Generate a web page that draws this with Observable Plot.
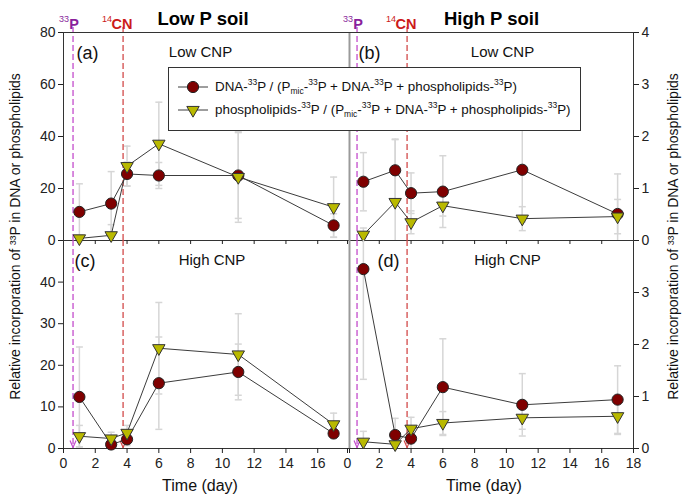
<!DOCTYPE html>
<html><head><meta charset="utf-8">
<script src="https://cdn.jsdelivr.net/npm/d3@7"></script>
<script src="https://cdn.jsdelivr.net/npm/@observablehq/plot@0.6"></script>
<style>
body{margin:0;background:#fff;}
#chart{position:relative;width:685px;height:500px;font-family:"Liberation Sans",Arial,sans-serif;overflow:hidden;}
.leg{position:absolute;left:168px;top:67px;width:413px;height:64px;border:1px solid #333;background:#fff;box-sizing:border-box;z-index:10;}
.leg .sw{position:absolute;left:8px;}
.leg .tx{position:absolute;left:46px;font-size:13.4px;line-height:18px;white-space:nowrap;color:#111;}
.leg sup{font-size:8.5px;vertical-align:6px;line-height:0;}
.leg sub{font-size:8.5px;vertical-align:-3px;line-height:0;}
</style></head><body><div id="chart"></div>
<script>
// sampling days
const days = [1, 3, 4, 6, 11, 17];
// (a) Low P soil, Low CNP
const dnaA = [11.0, 14.2, 25.6, 25.0, 25.0, 5.8];
const dnaAErr = [10.8, 12.3, 4.6, 5.0, 16.5, 4.5];
const plA = [0.8, 2.0, 28.6, 37.2, 24.4, 12.8];
const plAErr = [1.2, 4.1, 7.7, 16.0, 17.4, 11.6];
// (b) High P soil, Low CNP
const dnaB = [1.13, 1.35, 0.91, 0.94, 1.36, 0.51];
const dnaBErr = [0.56, 0.6, 0.39, 0.69, 1.0, 0.77];
const plB = [0.11, 0.74, 0.35, 0.67, 0.42, 0.46];
const plBErr = [0.13, 1.2, 0.22, 0.2, 0.23, 0.33];
// (c) Low P soil, High CNP
const dnaC = [12.4, 0.96, 2.2, 15.7, 18.4, 3.6];
const dnaCErr = [12.0, 1.5, 1.5, 11.1, 6.7, 1.0];
const plC = [2.95, 2.4, 3.75, 24.1, 22.6, 5.8];
const plCErr = [2.6, 1.5, 1.8, 11.0, 9.8, 2.7];
// (d) High P soil, High CNP
const dnaD = [3.45, 0.26, 0.19, 1.18, 0.84, 0.94];
const dnaDErr = [2.12, 0.32, 0.2, 0.93, 0.6, 0.65];
const plD = [0.13, 0.08, 0.38, 0.49, 0.59, 0.62];
const plDErr = [0.2, 0.1, 0.22, 0.22, 0.22, 0.35];

// event markers (33P addition, 14C+N addition)
const eventDays = [0.6, 3.75];
const eventMain = ["P", "CN"];
const eventSup = ["33", "14"];

// ticks
const xTicks = [0, 2, 4, 6, 8, 10, 12, 14, 16, 18];
const xLabelsLeft = [0, 2, 4, 6, 8, 10, 12, 14, 16];
const yTicksA = [0, 20, 40, 60, 80];
const yTicksB = [0, 1, 2, 3, 4];
const yTicksC = [0, 10, 20, 30, 40];
const yTicksD = [0, 1, 2, 3];

const panelTitles = ["Low P soil", "High P soil"];
const panelLetters = ["(a)", "(b)", "(c)", "(d)"];
const cnpLabels = ["Low CNP", "Low CNP", "High CNP", "High CNP"];
const xLabel = "Time (day)";
const yLabel = "Relative incorporation of \u00B3\u00B3P in DNA or phospholipids";

const W = 685, H = 500;
const FONT = "Liberation Sans, Arial, sans-serif";
const DNA_FILL = "#7f0000", PL_FILL = "#b9b900";
const EVT_LINE = ["#c44ccc", "#d24a4a"];
const EVT_TEXT = ["#8a1f9c", "#cc1a1a"];
const ERR = "#d6d6d6", AX = "#333";

const capSym = {draw(ctx) { ctx.moveTo(-3.5, 0); ctx.lineTo(3.5, 0); }};
const arrowSym = {draw(ctx) { ctx.moveTo(-3, -7); ctx.lineTo(0, 0); ctx.lineTo(3, -7); }};

function rows(vals, errs) { return days.map((d, i) => ({day: d, v: vals[i], e: errs[i]})); }

function panel(cfg) {
  const dna = rows(cfg.dna, cfg.dnaErr), pl = rows(cfg.pl, cfg.plErr);
  const all = dna.concat(pl);
  const yMax = cfg.yDomain[1];
  const marks = [];
  // error bars
  marks.push(Plot.ruleX(all, {x: "day", y1: d => Math.max(0, d.v - d.e), y2: d => d.v + d.e, stroke: ERR, strokeWidth: 1.5, clip: true}));
  marks.push(Plot.dot(all, {x: "day", y: d => d.v + d.e, symbol: capSym, fill: "none", stroke: ERR, strokeWidth: 1.5, clip: true}));
  marks.push(Plot.dot(all.filter(d => d.v - d.e > 0), {x: "day", y: d => d.v - d.e, symbol: capSym, fill: "none", stroke: ERR, strokeWidth: 1.5, clip: true}));
  // event lines
  eventDays.forEach((ed, i) => {
    marks.push(Plot.ruleX([ed], {x: d => d, stroke: EVT_LINE[i], strokeWidth: 1.3, strokeDasharray: "6,3", insetTop: cfg.top ? -5 : 0}));
    if (cfg.top) {
      marks.push(Plot.text([ed], {x: d => d, text: () => eventMain[i], frameAnchor: "top", lineAnchor: "bottom", dy: -4, dx: i === 0 ? 1 : -1, fontSize: 14.5, fontWeight: "bold", fill: EVT_TEXT[i], textAnchor: "middle", fontFamily: FONT}));
      marks.push(Plot.text([ed], {x: d => d, text: () => eventSup[i], frameAnchor: "top", lineAnchor: "bottom", dy: -11, dx: i === 0 ? -4 : -11, fontSize: 9, fill: EVT_TEXT[i], textAnchor: "end", fontFamily: FONT}));
    } else {
      marks.push(Plot.dot([ed], {x: d => d, y: () => 0, symbol: arrowSym, fill: "none", stroke: EVT_LINE[i], strokeWidth: 1.2, dy: -1}));
    }
  });
  // axis lines
  marks.push(Plot.ruleY([0], {stroke: AX, strokeWidth: 1}));
  if (cfg.top) marks.push(Plot.ruleY([yMax], {stroke: AX, strokeWidth: 1}));
  if (cfg.left) {
    marks.push(Plot.ruleX([0], {stroke: AX, strokeWidth: 1}));
    marks.push(Plot.ruleX([18], {stroke: "#9a9a9a", strokeWidth: 2}));
  } else {
    marks.push(Plot.ruleX([18], {stroke: AX, strokeWidth: 1}));
  }
  // axes
  marks.push(Plot.axisY({anchor: cfg.left ? "left" : "right", ticks: cfg.yTicks, tickSize: 5, tickPadding: 3, tickFormat: d => String(d), fontSize: 14, color: "#222", label: null, fontFamily: FONT}));
  marks.push(Plot.axisX({anchor: "bottom", ticks: xTicks, tickSize: cfg.top ? 4 : 5, tickPadding: 5,
    tickFormat: cfg.top ? () => "" : (d => cfg.xLabels.includes(d) ? String(d) : ""),
    fontSize: 14, color: "#222", label: null, fontFamily: FONT}));
  // series lines
  marks.push(Plot.line(dna, {x: "day", y: "v", stroke: "#3c3c3c", strokeWidth: 1}));
  marks.push(Plot.line(pl, {x: "day", y: "v", stroke: "#3c3c3c", strokeWidth: 1}));
  marks.push(Plot.dot(dna, {x: "day", y: "v", r: 5.6, fill: DNA_FILL, stroke: "#222", strokeWidth: 1}));
  marks.push(Plot.dot(pl, {x: "day", y: "v", r: 4.6, symbol: "triangle", rotate: 180, fill: PL_FILL, stroke: "#333", strokeWidth: 1}));
  // labels
  marks.push(Plot.text([cfg.letter], {text: d => d, frameAnchor: "top-left", textAnchor: "start", dx: cfg.letterDx, dy: 14, fontSize: 18, fill: "#111", fontFamily: FONT}));
  marks.push(Plot.text([cfg.cnp], {text: d => d, frameAnchor: "top", dx: cfg.cnpDx, dy: 14, fontSize: 15, fill: "#111", fontFamily: FONT}));
  if (cfg.title) marks.push(Plot.text([cfg.title], {text: d => d, frameAnchor: "top", dx: cfg.titleDx, dy: -21, fontSize: 18.5, fontWeight: "bold", fill: "#000", fontFamily: FONT}));
  if (!cfg.top) marks.push(Plot.text([xLabel], {text: d => d, frameAnchor: "bottom", dx: -6.5, dy: 42, fontSize: 16, fill: "#111", fontFamily: FONT}));
  if (cfg.ylab) marks.push(Plot.text([yLabel], {text: d => d, frameAnchor: cfg.left ? "top-left" : "top-right", textAnchor: "middle", lineAnchor: "middle", dx: cfg.left ? -48 : 40, dy: -4, rotate: -90, fontSize: 14, fill: "#111", fontFamily: FONT}));

  return Plot.plot({
    width: W, height: H,
    marginLeft: cfg.left ? 63 : 347, marginRight: cfg.left ? 336 : 52,
    marginTop: cfg.top ? 32 : 240, marginBottom: cfg.top ? 260 : 52,
    x: {domain: [0, 18], label: null},
    y: {domain: cfg.yDomain, label: null},
    style: {background: "transparent", overflow: "visible", fontFamily: FONT, position: "absolute", left: "0px", top: "0px"},
    marks
  });
}

const chart = document.getElementById("chart");
const cfgs = [
  {top: true, left: true, dna: dnaA, dnaErr: dnaAErr, pl: plA, plErr: plAErr, yDomain: [0, 80], yTicks: yTicksA, letter: panelLetters[0], letterDx: 13, cnp: cnpLabels[0], cnpDx: -6, title: panelTitles[0], titleDx: -3.5},
  {top: true, left: false, dna: dnaB, dnaErr: dnaBErr, pl: plB, plErr: plBErr, yDomain: [0, 4], yTicks: yTicksB, letter: panelLetters[1], letterDx: 11, cnp: cnpLabels[1], cnpDx: 12, title: panelTitles[1], titleDx: 1},
  {top: false, left: true, dna: dnaC, dnaErr: dnaCErr, pl: plC, plErr: plCErr, yDomain: [0, 50], yTicks: yTicksC, letter: panelLetters[2], letterDx: 11, cnp: cnpLabels[2], cnpDx: 5.5, xLabels: xLabelsLeft, ylab: true},
  {top: false, left: false, dna: dnaD, dnaErr: dnaDErr, pl: plD, plErr: plDErr, yDomain: [0, 4], yTicks: yTicksD, letter: panelLetters[3], letterDx: 30, cnp: cnpLabels[3], cnpDx: 17, xLabels: xTicks, ylab: true}
];
cfgs.forEach(c => chart.appendChild(panel(c)));

// legend
const sup = s => `<sup>${s}</sup>`;
const legendItems = [
  {sym: "circle", text: `DNA-${sup(33)}P / (P<sub>mic</sub>-${sup(33)}P + DNA-${sup(33)}P + phospholipids-${sup(33)}P)`},
  {sym: "triangle", text: `phospholipids-${sup(33)}P / (P<sub>mic</sub>-${sup(33)}P + DNA-${sup(33)}P + phospholipids-${sup(33)}P)`}
];
const leg = document.createElement("div");
leg.className = "leg";
const rowCenters = [19, 42];
legendItems.forEach((it, i) => {
  const cy = rowCenters[i];
  const marker = it.sym === "circle"
    ? `<circle cx="16" cy="10" r="5.6" fill="${DNA_FILL}" stroke="#222"/>`
    : `<path d="${d3.symbol(d3.symbolTriangle, Math.PI * 4.6 * 4.6)()}" transform="translate(16,10) rotate(180)" fill="${PL_FILL}" stroke="#333"/>`;
  leg.insertAdjacentHTML("beforeend",
    `<svg class="sw" width="32" height="20" style="top:${cy - 10}px"><line x1="1" x2="31" y1="10" y2="10" stroke="#3c3c3c"/>${marker}</svg>` +
    `<div class="tx" style="top:${cy - 9}px">${it.text}</div>`);
});
chart.appendChild(leg);
</script></body></html>
